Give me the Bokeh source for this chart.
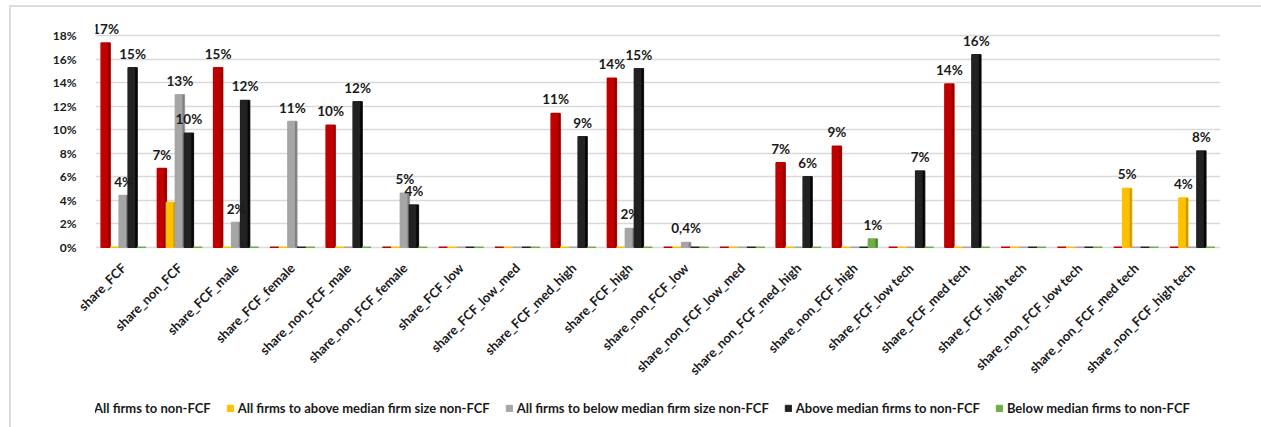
import math
from bokeh.plotting import figure
from bokeh.layouts import column
from bokeh.models import (ColumnDataSource, FactorRange, FixedTicker, PrintfTickFormatter,
                          Legend, LegendItem)
from bokeh.transform import dodge
from bokeh.core.properties import value
from bokeh.embed import file_html
from bokeh.resources import INLINE

categories = ["share_FCF", "share_non_FCF", "share_FCF_male", "share_FCF_female",
              "share_non_FCF_male", "share_non_FCF_female", "share_FCF_low",
              "share_FCF_low_med", "share_FCF_med_high", "share_FCF_high",
              "share_non_FCF_low", "share_non_FCF_low_med", "share_non_FCF_med_high",
              "share_non_FCF_high", "share_FCF_low tech", "share_FCF_med tech",
              "share_FCF_high tech", "share_non_FCF_low tech", "share_non_FCF_med tech",
              "share_non_FCF_high tech"]

series_names = ["All firms to non-FCF",
                "All firms to above median firm size non-FCF",
                "All firms to below median firm size non-FCF",
                "Above median firms to non-FCF",
                "Below median firms to non-FCF"]

# values in percent
all_firms = [17.4, 6.7, 15.3, 0, 10.4, 0, 0, 0, 11.4, 14.4, 0, 0, 7.2, 8.6, 0, 13.9, 0, 0, 0, 0]
above_size = [0, 3.8, 0, 0, 0, 0, 0, 0, 0, 0, 0, 0, 0, 0, 0, 0, 0, 0, 5.0, 4.2]
below_size = [4.4, 13.0, 2.1, 10.7, 0, 4.6, 0, 0, 0, 1.6, 0.4, 0, 0, 0, 0, 0, 0, 0, 0, 0]
above_median = [15.3, 9.7, 12.5, 0, 12.4, 3.6, 0, 0, 9.4, 15.2, 0, 0, 6.0, 0, 6.5, 16.4, 0, 0, 0, 8.2]
below_median = [0, 0, 0, 0, 0, 0, 0, 0, 0, 0, 0, 0, 0, 0.7, 0, 0, 0, 0, 0, 0]

all_firms_labels = ["17%", "7%", "15%", "", "10%", "", "", "", "11%", "14%",
                    "", "", "7%", "9%", "", "14%", "", "", "", ""]
above_size_labels = ["", "", "", "", "", "", "", "", "", "",
                     "", "", "", "", "", "", "", "", "5%", "4%"]
below_size_labels = ["4%", "13%", "2%", "11%", "", "5%", "", "", "", "2%",
                     "0,4%", "", "", "", "", "", "", "", "", ""]
above_median_labels = ["15%", "10%", "12%", "", "12%", "4%", "", "", "9%", "15%",
                       "", "", "6%", "", "7%", "16%", "", "", "", "8%"]
below_median_labels = ["", "", "", "", "", "", "", "", "", "",
                       "", "", "", "1%", "", "", "", "", "", ""]

y_ticks = [0, 2, 4, 6, 8, 10, 12, 14, 16, 18]

series_values = [all_firms, above_size, below_size, above_median, below_median]
series_labels = [all_firms_labels, above_size_labels, below_size_labels,
                 above_median_labels, below_median_labels]
colors = ["#C00000", "#FFC000", "#A6A6A6", "#222222", "#70AD47"]
side_colors = ["#8E0000", "#C89600", "#7F7F7F", "#050505", "#4F7F32"]
offsets = [-0.32, -0.16, 0.0, 0.16, 0.32]
bar_w = 0.16
side_w = 0.035

FONT = "Lato"
TXT = "#1a1a1a"

p = figure(x_range=FactorRange(factors=categories), y_range=(-0.2, 20),
           width=1252, height=385, output_backend="svg", toolbar_location=None,
           min_border_left=84, min_border_right=43, min_border_top=5,
           min_border_bottom=143)
p.outline_line_color = None
p.background_fill_color = "white"
p.border_fill_color = "white"

renderers = []
for vals, labs, col, scol, off in zip(series_values, series_labels, colors, side_colors, offsets):
    src = ColumnDataSource(dict(cat=categories, val=vals, lab=labs))
    r = p.vbar(x=dodge("cat", off, range=p.x_range), top="val", bottom=0, width=bar_w,
               source=src, fill_color=col, line_color=col, line_width=1.5)
    p.vbar(x=dodge("cat", off + bar_w / 2 - side_w / 2, range=p.x_range), top="val", bottom=0,
           width=side_w, source=src, fill_color=scol, line_color=None)
    renderers.append(r)

for vals, labs, off in zip(series_values, series_labels, offsets):
    src = ColumnDataSource(dict(cat=categories, val=vals, lab=labs))
    p.text(x=dodge("cat", off, range=p.x_range), y="val", text="lab", source=src,
           y_offset=-6, text_align="center", text_baseline="bottom",
           text_font=value(FONT), text_font_style="bold", text_font_size="13.5px",
           text_color=TXT)

# axes
p.yaxis.ticker = FixedTicker(ticks=y_ticks)
p.yaxis.formatter = PrintfTickFormatter(format="%d%%")
p.yaxis.axis_line_color = None
p.yaxis.major_tick_line_color = None
p.yaxis.minor_tick_line_color = None
p.yaxis.major_tick_out = 0
p.yaxis.major_label_standoff = 19
p.yaxis.major_label_text_font = FONT
p.yaxis.major_label_text_font_style = "bold"
p.yaxis.major_label_text_font_size = "12px"
p.yaxis.major_label_text_color = TXT

p.xaxis.axis_line_color = None
p.xaxis.major_tick_line_color = None
p.xaxis.major_tick_out = 0
p.xaxis.major_label_orientation = math.pi / 4
p.xaxis.major_label_standoff = 16
p.xaxis.major_label_text_font = FONT
p.xaxis.major_label_text_font_style = "bold"
p.xaxis.major_label_text_font_size = "13px"
p.xaxis.major_label_text_color = TXT

p.xgrid.grid_line_color = None
p.ygrid.grid_line_color = "#d9d9d9"
p.ygrid.grid_line_width = 1.5

# legend strip below the chart
pl = figure(width=1252, height=37, output_backend="svg", toolbar_location=None,
            x_range=(0, 1), y_range=(0, 1), min_border=0,
            x_axis_location=None, y_axis_location=None)
pl.grid.visible = False
pl.outline_line_color = None
pl.background_fill_color = "white"
pl.border_fill_color = "white"
leg_renderers = []
for name, col in zip(series_names, colors):
    # legend proxies, kept outside the visible range
    rr = pl.vbar(x=[-5], top=[0], width=0.1, fill_color=col, line_color=col, line_width=1)
    leg_renderers.append(rr)

legend = Legend(items=[LegendItem(label=n, renderers=[r]) for n, r in zip(series_names, leg_renderers)],
                orientation="horizontal", location=(-13, 13),
                glyph_width=8, glyph_height=8, label_standoff=4, spacing=15,
                padding=0, margin=0, border_line_color=None, background_fill_alpha=0,
                label_text_font=FONT, label_text_font_style="bold",
                label_text_font_size="13px", label_text_color=TXT,
                label_height=13)
pl.add_layout(legend, "center")

layout = column(p, pl, spacing=0, margin=(5, 0, 0, 9),
                styles={"border-left": "2px solid #dcdcdc", "border-top": "2px solid #dcdcdc"})

open("out.html", "w").write(file_html(layout, INLINE))
